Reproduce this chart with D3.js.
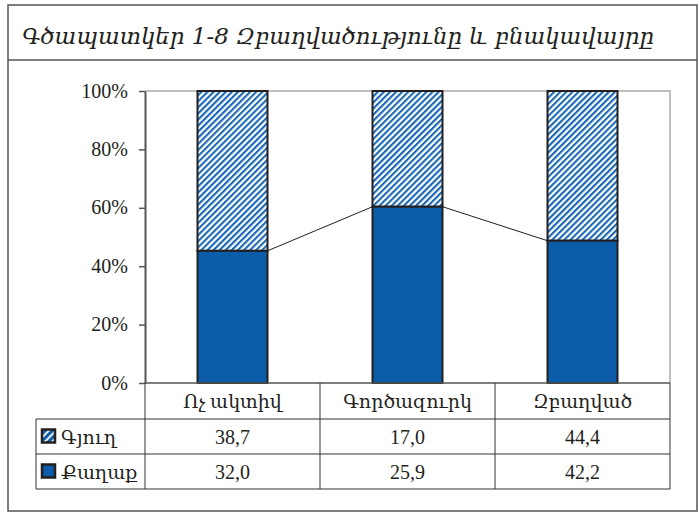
<!DOCTYPE html>
<html>
<head>
<meta charset="utf-8">
<script src="https://cdn.jsdelivr.net/npm/d3@7"></script>
<style>
  body { margin: 0; background: #fff; }
  text { font-family: "Liberation Serif", "DejaVu Serif", serif; fill: #231f20; }
</style>
</head>
<body>
<div id="chart"></div>
<script>
let categories = ["Ոչ ակտիվ", "Գործազուրկ", "Զբաղված"]
let series_names = ["Գյուղ", "Քաղաք"]
let village = [38.7, 17.0, 44.4]
let city = [32.0, 25.9, 42.2]
let tick_values = [0, 0.2, 0.4, 0.6, 0.8, 1]
let title = "Գծապատկեր 1-8 Զբաղվածությունը և բնակավայրը"

let blue = "#0b5ca9"
let dark = "#231f20"

let svg = d3.select("#chart").append("svg")
    .attr("width", 699)
    .attr("height", 513)

// hatch pattern for the village series
let defs = svg.append("defs")
let pat = defs.append("pattern")
    .attr("id", "hatch")
    .attr("patternUnits", "userSpaceOnUse")
    .attr("width", 4.3)
    .attr("height", 4.3)
    .attr("patternTransform", "rotate(45)")
pat.append("rect").attr("width", 4.3).attr("height", 4.3).attr("fill", "#fff")
pat.append("rect").attr("width", 2.1).attr("height", 4.3).attr("fill", "#1767b4")

let small_pat = defs.append("pattern")
    .attr("id", "hatch_small")
    .attr("patternUnits", "userSpaceOnUse")
    .attr("width", 5)
    .attr("height", 5)
    .attr("patternTransform", "rotate(45)")
small_pat.append("rect").attr("width", 5).attr("height", 5).attr("fill", "#fff")
small_pat.append("rect").attr("width", 3.2).attr("height", 5).attr("fill", blue)

// frame and title
svg.append("rect")
    .attr("x", 8).attr("y", 5)
    .attr("width", 689).attr("height", 506)
    .attr("fill", "none")
    .attr("stroke", "#555")
    .attr("stroke-width", 1.5)
svg.append("line")
    .attr("x1", 8).attr("x2", 697)
    .attr("y1", 60).attr("y2", 60)
    .attr("stroke", "#555")
    .attr("stroke-width", 1.5)
svg.append("text")
    .attr("x", 22).attr("y", 44)
    .style("font-family", "'DejaVu Serif', serif")
    .style("font-style", "italic")
    .style("font-size", "23px")
    .attr("textLength", 632)
    .attr("lengthAdjust", "spacingAndGlyphs")
    .text(title)

let x = d3.scaleBand()
    .domain(categories)
    .range([145, 670])
    .paddingInner(0.6)
    .paddingOuter(0.3)

let x_cols = d3.scaleBand()
    .domain(categories)
    .range([145, 670])

let y = d3.scaleLinear()
    .domain([0, 1])
    .range([383, 91])

let shares = categories.map((c, i) => {
    let total = village[i] + city[i]
    return { cat: c, city: city[i] / total, village: village[i] / total }
})

// plot border (top / right)
svg.append("path")
    .attr("d", `M${x_cols.range()[0]},${y(1)}H${x_cols.range()[1]}V${y(0)}`)
    .attr("fill", "none")
    .attr("stroke", "#aaa")
    .attr("stroke-width", 1.5)

// bars
let bars = svg.append("g").attr("class", "bars")
bars.selectAll(".village")
    .data(shares)
    .enter().append("rect")
    .attr("x", (d) => x(d.cat))
    .attr("y", (d) => y(1))
    .attr("width", x.bandwidth())
    .attr("height", (d) => y(d.city) - y(1))
    .attr("fill", "url(#hatch)")
    .attr("stroke", dark)
    .attr("stroke-width", 2)
bars.selectAll(".city")
    .data(shares)
    .enter().append("rect")
    .attr("x", (d) => x(d.cat))
    .attr("y", (d) => y(d.city))
    .attr("width", x.bandwidth())
    .attr("height", (d) => y(0) - y(d.city))
    .attr("fill", blue)
    .attr("stroke", dark)
    .attr("stroke-width", 2)

// series lines between bars
for (let i = 0; i < shares.length - 1; i++) {
    svg.append("line")
        .attr("x1", x(shares[i].cat) + x.bandwidth())
        .attr("y1", y(shares[i].city))
        .attr("x2", x(shares[i + 1].cat))
        .attr("y2", y(shares[i + 1].city))
        .attr("stroke", dark)
        .attr("stroke-width", 1)
}

// y axis
let axis = svg.append("g")
    .attr("transform", "translate(145,0)")
    .call(d3.axisLeft(y).tickValues(tick_values).tickFormat(d3.format(".0%")).tickSize(6).tickSizeOuter(0))
axis.select(".domain").attr("stroke", "#555").attr("stroke-width", 2)
axis.selectAll(".tick line").attr("stroke", "#555").attr("stroke-width", 1.5)
axis.selectAll(".tick text")
    .attr("x", -17)
    .attr("dy", "0.3em")
    .style("font-family", "'Liberation Serif', serif")
    .style("font-size", "20px")
    .attr("fill", dark)

// data table
let row_y = [383, 419, 454, 489]
let table = svg.append("g").attr("stroke", "#333").attr("stroke-width", 1)
table.append("line").attr("x1", 145).attr("x2", 670).attr("y1", row_y[0]).attr("y2", row_y[0])
    .attr("stroke", "#555").attr("stroke-width", 1.5)
row_y.slice(1).forEach((ry) => {
    table.append("line").attr("x1", 36).attr("x2", 670).attr("y1", ry).attr("y2", ry)
})
categories.forEach((c) => {
    table.append("line")
        .attr("x1", x_cols(c)).attr("x2", x_cols(c))
        .attr("y1", row_y[0]).attr("y2", row_y[3])
})
table.append("line").attr("x1", 670).attr("x2", 670).attr("y1", row_y[0]).attr("y2", row_y[3])
table.append("line").attr("x1", 36).attr("x2", 36).attr("y1", row_y[1]).attr("y2", row_y[3])

let fmt = (v) => d3.format(".1f")(v).replace(".", ",")

svg.selectAll(".cat_label")
    .data(categories)
    .enter().append("text")
    .attr("x", (d) => x_cols(d) + x_cols.bandwidth() / 2)
    .attr("y", (row_y[0] + row_y[1]) / 2 + 7)
    .attr("text-anchor", "middle")
    .style("font-size", "19px")
    .text((d) => d)

let rows = [
    { name: series_names[0], values: village, fill: "url(#hatch_small)" },
    { name: series_names[1], values: city, fill: blue }
]
rows.forEach((r, ri) => {
    let cy = (row_y[ri + 1] + row_y[ri + 2]) / 2
    svg.append("rect")
        .attr("x", 42).attr("y", cy - 7)
        .attr("width", 13).attr("height", 13)
        .attr("fill", r.fill)
        .attr("stroke", dark)
        .attr("stroke-width", 2.5)
    svg.append("text")
        .attr("x", 61).attr("y", cy + 7)
        .style("font-size", "19px")
        .text(r.name)
    svg.selectAll(".val" + ri)
        .data(r.values)
        .enter().append("text")
        .attr("x", (d, i) => x_cols(categories[i]) + x_cols.bandwidth() / 2)
        .attr("y", cy + 7)
        .attr("text-anchor", "middle")
        .style("font-size", "20px")
        .text((d) => fmt(d))
})
</script>
</body>
</html>
